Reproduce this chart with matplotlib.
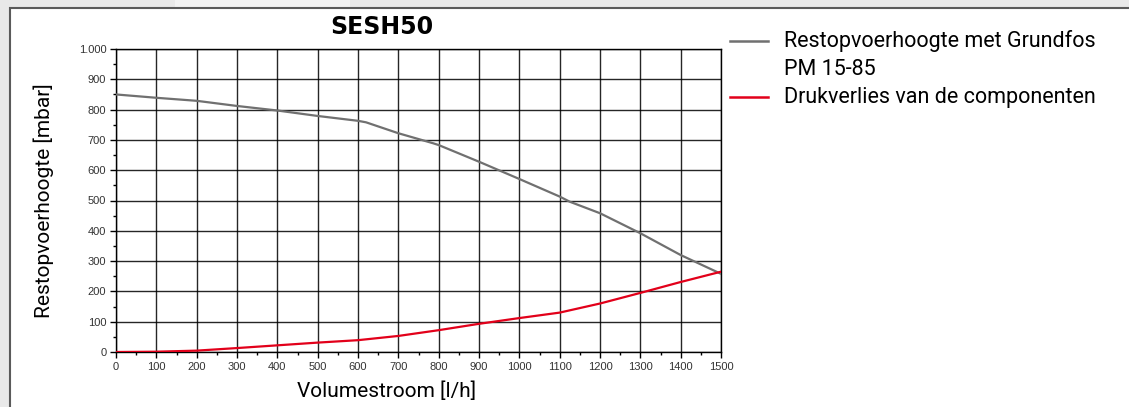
import matplotlib
matplotlib.use('Agg')
import matplotlib.pyplot as plt
from matplotlib.patches import Rectangle
from matplotlib.lines import Line2D
from matplotlib.ticker import MultipleLocator, FuncFormatter

# Data
flow_pump = [0, 100, 200, 300, 400, 500, 600, 620, 700, 786, 800, 900, 1000, 1100, 1125, 1200, 1300, 1400, 1500]
head_pump = [850, 839, 829, 812, 797, 779, 763, 758, 722, 689, 683, 628, 571, 513, 496, 458, 392, 320, 258]

flow_loss = [0, 100, 200, 300, 400, 500, 600, 700, 800, 900, 1000, 1100, 1200, 1300, 1400, 1500]
head_loss = [0, 1, 4.5, 13, 22, 31, 39, 53, 72, 93, 112, 130, 160, 195, 231, 265]

title = 'SESH50'
label_pump = 'Restopvoerhoogte met Grundfos\nPM 15-85'
label_loss = 'Drukverlies van de componenten'

narrow = ['Roboto', 'DejaVu Sans']
plt.rcParams['font.family'] = ['Liberation Sans', 'DejaVu Sans']

fig = plt.figure(figsize=(11.29, 4.07), dpi=100)
fig.patch.set_facecolor('#e9e9e9')
# lighter band in the background
fig.patches.append(Rectangle((175 / 1129, 0), 175 / 1129, 1, transform=fig.transFigure,
                             facecolor='#f2f2f2', edgecolor='none', zorder=0))
# white panel with border
fig.patches.append(Rectangle((10 / 1129, -0.1), 1.2, (407 - 8) / 407 + 0.1, transform=fig.transFigure,
                             facecolor='white', edgecolor='#5a5a5a', linewidth=1.5, zorder=1))

ax = fig.add_axes([116 / 1129, (407 - 352) / 407, 605 / 1129, 303 / 407])
ax.set_zorder(2)
ax.plot(flow_pump, head_pump, color='#707070', lw=1.6, zorder=3)
ax.plot(flow_loss, head_loss, color='#e2001a', lw=1.6, zorder=4)

ax.set_xlim(0, 1500)
ax.set_ylim(0, 1000)
ax.xaxis.set_major_locator(MultipleLocator(100))
ax.xaxis.set_minor_locator(MultipleLocator(50))
ax.yaxis.set_major_locator(MultipleLocator(100))
ax.yaxis.set_minor_locator(MultipleLocator(50))
ax.yaxis.set_major_formatter(FuncFormatter(lambda v, p: f'{int(v):,}'.replace(',', '.')))
ax.tick_params(which='major', length=4, width=1, labelsize=8, labelcolor='#333333', pad=3)
ax.tick_params(which='minor', length=2.5, width=1)
ax.grid(True, which='major', color='black', linewidth=1, alpha=0.85)
for s in ax.spines.values():
    s.set_linewidth(1)
ax.set_axisbelow(True)

ax.set_xlabel('Volumestroom [l/h]', fontsize=15, family=narrow, labelpad=7, x=(387 - 116) / 605)
ax.set_ylabel('Restopvoerhoogte [mbar]', fontsize=15, family=narrow, labelpad=18)

fig.text(382 / 1129, 1 - 27 / 407, title, fontsize=17, fontweight='heavy', ha='center', va='center',
         family=['DejaVu Sans'])

# legend
for y, c in [(41, '#707070'), (97, '#e2001a')]:
    fig.lines.append(Line2D([730 / 1129, 768 / 1129], [1 - y / 407, 1 - y / 407],
                            transform=fig.transFigure, color=c, lw=1.8, zorder=5))
fig.text(784 / 1129, 1 - 55 / 407, label_pump, fontsize=15.5, family=narrow, va='center',
         ha='left', linespacing=1.4)
fig.text(784 / 1129, 1 - 97 / 407, label_loss, fontsize=15.5, family=narrow, va='center', ha='left')

fig.savefig('out.png', dpi=100, facecolor=fig.get_facecolor())
